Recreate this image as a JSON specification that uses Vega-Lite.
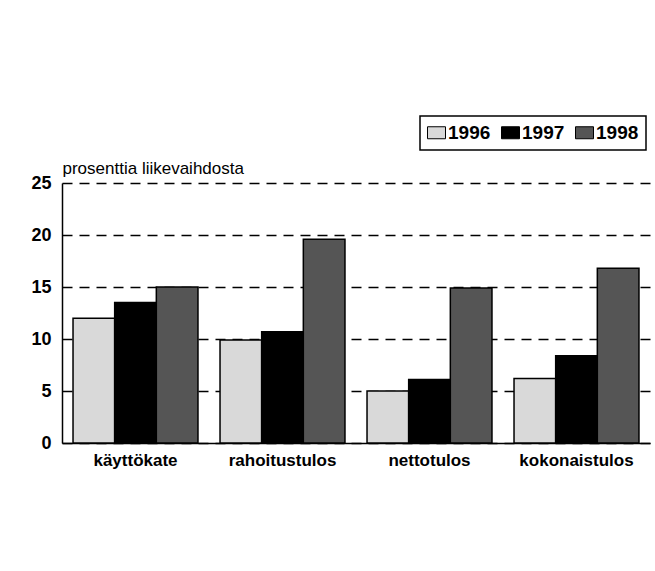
{
  "$schema": "https://vega.github.io/schema/vega-lite/v6.json",
  "width": 588,
  "height": 260,
  "autosize": {"type": "none"},
  "padding": {"left": 62, "top": 183, "right": 5, "bottom": 128},
  "background": "white",
  "data": {
    "values": [
      {"kategoria": "käyttökate", "vuosi": "1996", "arvo": 12.0},
      {"kategoria": "käyttökate", "vuosi": "1997", "arvo": 13.5},
      {"kategoria": "käyttökate", "vuosi": "1998", "arvo": 15.0},
      {"kategoria": "rahoitustulos", "vuosi": "1996", "arvo": 9.9},
      {"kategoria": "rahoitustulos", "vuosi": "1997", "arvo": 10.7},
      {"kategoria": "rahoitustulos", "vuosi": "1998", "arvo": 19.6},
      {"kategoria": "nettotulos", "vuosi": "1996", "arvo": 5.0},
      {"kategoria": "nettotulos", "vuosi": "1997", "arvo": 6.1},
      {"kategoria": "nettotulos", "vuosi": "1998", "arvo": 14.9},
      {"kategoria": "kokonaistulos", "vuosi": "1996", "arvo": 6.2},
      {"kategoria": "kokonaistulos", "vuosi": "1997", "arvo": 8.4},
      {"kategoria": "kokonaistulos", "vuosi": "1998", "arvo": 16.8}
    ]
  },
  "mark": {"type": "bar", "stroke": "black", "strokeWidth": 1.5},
  "encoding": {
    "x": {
      "field": "kategoria",
      "type": "nominal",
      "sort": ["käyttökate", "rahoitustulos", "nettotulos", "kokonaistulos"],
      "scale": {"paddingInner": 0.15, "paddingOuter": 0.075},
      "axis": {
        "title": null,
        "labelAngle": 0,
        "labelFont": "Liberation Sans",
        "labelFontSize": 17,
        "labelFontWeight": "bold",
        "labelColor": "black",
        "labelPadding": 9,
        "ticks": false,
        "domainColor": "black",
        "domainWidth": 1.5
      }
    },
    "xOffset": {"field": "vuosi", "type": "nominal", "sort": ["1996", "1997", "1998"]},
    "y": {
      "field": "arvo",
      "type": "quantitative",
      "scale": {"domain": [0, 25], "nice": false},
      "axis": {
        "values": [0, 5, 10, 15, 20, 25],
        "title": "prosenttia liikevaihdosta",
        "titleAngle": 0,
        "titleAlign": "left",
        "titleBaseline": "alphabetic",
        "titleX": 0,
        "titleY": -10,
        "titleFont": "Liberation Sans",
        "titleFontSize": 17,
        "titleFontWeight": "normal",
        "titleColor": "black",
        "labelFont": "Liberation Sans",
        "labelFontSize": 18,
        "labelFontWeight": "bold",
        "labelColor": "black",
        "labelPadding": 11,
        "ticks": false,
        "domainColor": "black",
        "domainWidth": 1.5,
        "grid": true,
        "gridColor": "black",
        "gridOpacity": 1,
        "gridWidth": 1.5,
        "gridDash": [10, 7]
      }
    },
    "fill": {
      "field": "vuosi",
      "type": "nominal",
      "scale": {"domain": ["1996", "1997", "1998"], "range": ["#d9d9d9", "#000000", "#555555"]},
      "legend": {
        "orient": "none",
        "legendX": 358,
        "legendY": -67,
        "direction": "horizontal",
        "title": null,
        "strokeColor": "black",
        "padding": 7,
        "symbolType": "M-1.5,-1H1.5V1H-1.5Z",
        "symbolSize": 144,
        "symbolStrokeColor": "black",
        "symbolStrokeWidth": 1,
        "symbolOpacity": 1,
        "labelFont": "Liberation Sans",
        "labelFontSize": 19,
        "labelFontWeight": "bold",
        "labelColor": "black",
        "labelOffset": 2,
        "columnPadding": 8
      }
    }
  },
  "config": {
    "view": {"stroke": null},
    "legend": {"strokeWidth": 1.5}
  }
}
